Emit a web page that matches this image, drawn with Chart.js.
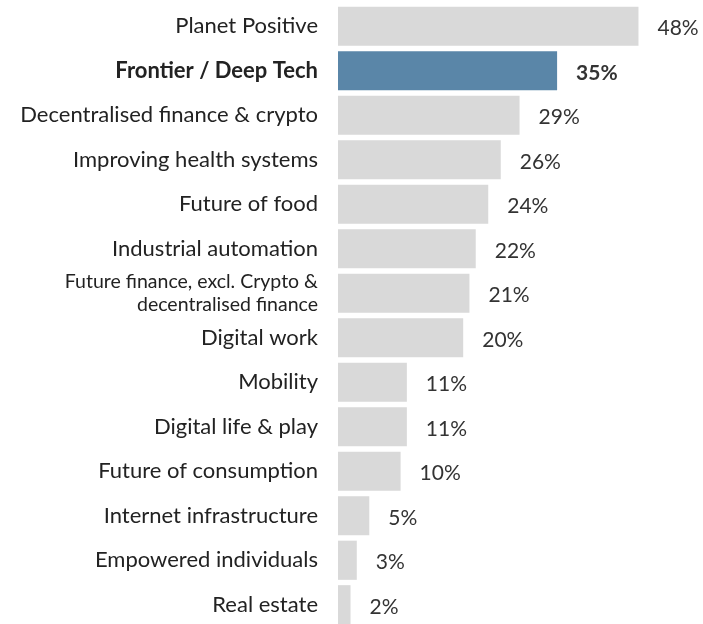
<!DOCTYPE html>
<html>
<head>
<meta charset="utf-8">
<script src="https://cdn.jsdelivr.net/npm/chart.js@4"></script>
<style>
  html, body { margin: 0; padding: 0; background: #fff; overflow: hidden; }
  #wrap { width: 703px; height: 627px; }
</style>
</head>
<body>
<div id="wrap"><canvas id="chart-sectors"></canvas></div>
<script>
const categories = [
  "Planet Positive",
  "Frontier / Deep Tech",
  "Decentralised finance & crypto",
  "Improving health systems",
  "Future of food",
  "Industrial automation",
  ["Future finance, excl. Crypto &", "decentralised finance"],
  "Digital work",
  "Mobility",
  "Digital life & play",
  "Future of consumption",
  "Internet infrastructure",
  "Empowered individuals",
  "Real estate",
];
const shares = [48, 35, 29, 26, 24, 22, 21, 20, 11, 11, 10, 5, 3, 2];
const highlightIndex = 1;

const FONT = "Lato, 'Noto Sans', sans-serif";
const grey = "#d9d9d9";
const blue = "#5a86a8";
const textColor = "#222222";

// value labels at the end of each bar
const valueLabels = {
  id: "valueLabels",
  afterDatasetsDraw(chart) {
    const ctx = chart.ctx;
    const meta = chart.getDatasetMeta(0);
    ctx.save();
    ctx.textBaseline = "middle";
    ctx.textAlign = "left";
    ctx.fillStyle = "#333333";
    meta.data.forEach((bar, i) => {
      ctx.font = (i === highlightIndex ? "bold " : "") + "21px " + FONT;
      ctx.fillText(shares[i] + "%", bar.x + 19, bar.y + 2);
    });
    ctx.restore();
  },
};

const chartSectors = new Chart(document.querySelector("#chart-sectors"), {
  type: "bar",
  data: {
    labels: categories,
    datasets: [
      {
        data: shares,
        backgroundColor: shares.map((v, i) => (i === highlightIndex ? blue : grey)),
        categoryPercentage: 0.88,
        barPercentage: 1,
      },
    ],
  },
  options: {
    indexAxis: "y",
    responsive: true,
    maintainAspectRatio: false,
    animation: false,
    layout: { padding: { top: 4, bottom: 0, left: 0, right: 52 } },
    plugins: {
      legend: { display: false },
      tooltip: { enabled: false },
    },
    scales: {
      x: {
        display: false,
        min: 0,
        max: 50,
      },
      y: {
        afterFit(scale) {
          scale.width = 338;
          scale.paddingTop = 0;
          scale.paddingBottom = 0;
        },
        grid: { display: false, drawTicks: false, tickLength: 0 },
        border: { display: false },
        ticks: {
          autoSkip: false,
          padding: 20,
          color: textColor,
          font: (c) => {
            if (c.index === highlightIndex) return { family: FONT, size: 22, weight: "bold" };
            if (c.index === 6) return { family: FONT, size: 19.5, lineHeight: 1.18 };
            return { family: FONT, size: 22 };
          },
        },
      },
    },
  },
  plugins: [valueLabels],
});
</script>
</body>
</html>
